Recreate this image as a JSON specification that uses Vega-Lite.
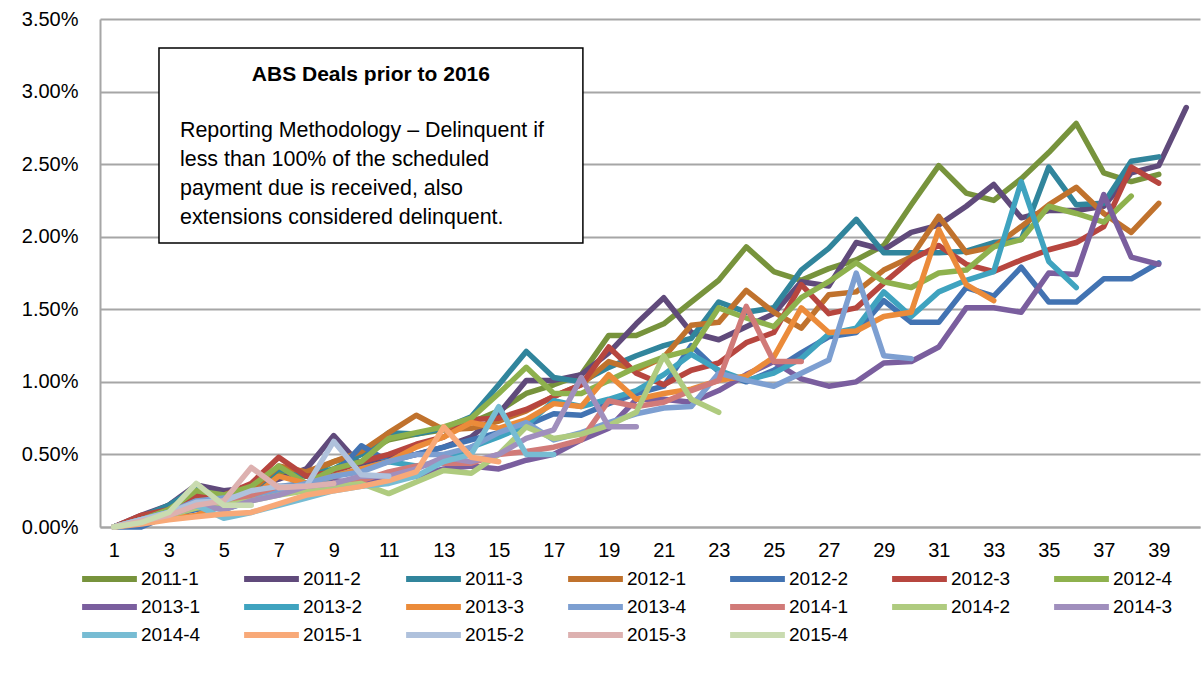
{
  "$schema": "https://vega.github.io/schema/vega-lite/v6.json",
  "width": 1100,
  "height": 508,
  "autosize": {"type": "none"},
  "padding": {"left": 100, "top": 19, "right": 4, "bottom": 152},
  "background": "white",
  "config": {
    "view": {"stroke": null},
    "font": "Liberation Sans",
    "axis": {"labelFont": "Liberation Sans", "labelColor": "#000000"},
    "legend": {"labelFont": "Liberation Sans"}
  },
  "layer": [
    {
      "data": {"values": [
{"s":"2011-1","n":1,"v":0.00},{"s":"2011-1","n":2,"v":0.05},{"s":"2011-1","n":3,"v":0.15},{"s":"2011-1","n":4,"v":0.27},{"s":"2011-1","n":5,"v":0.24},{"s":"2011-1","n":6,"v":0.28},{"s":"2011-1","n":7,"v":0.38},{"s":"2011-1","n":8,"v":0.35},{"s":"2011-1","n":9,"v":0.45},{"s":"2011-1","n":10,"v":0.50},{"s":"2011-1","n":11,"v":0.60},{"s":"2011-1","n":12,"v":0.64},{"s":"2011-1","n":13,"v":0.67},{"s":"2011-1","n":14,"v":0.72},{"s":"2011-1","n":15,"v":0.80},{"s":"2011-1","n":16,"v":0.92},{"s":"2011-1","n":17,"v":0.98},{"s":"2011-1","n":18,"v":1.05},{"s":"2011-1","n":19,"v":1.32},{"s":"2011-1","n":20,"v":1.32},{"s":"2011-1","n":21,"v":1.40},{"s":"2011-1","n":22,"v":1.55},{"s":"2011-1","n":23,"v":1.70},{"s":"2011-1","n":24,"v":1.93},{"s":"2011-1","n":25,"v":1.76},{"s":"2011-1","n":26,"v":1.70},{"s":"2011-1","n":27,"v":1.78},{"s":"2011-1","n":28,"v":1.84},{"s":"2011-1","n":29,"v":1.94},{"s":"2011-1","n":30,"v":2.22},{"s":"2011-1","n":31,"v":2.49},{"s":"2011-1","n":32,"v":2.30},{"s":"2011-1","n":33,"v":2.25},{"s":"2011-1","n":34,"v":2.40},{"s":"2011-1","n":35,"v":2.58},{"s":"2011-1","n":36,"v":2.78},{"s":"2011-1","n":37,"v":2.44},{"s":"2011-1","n":38,"v":2.38},{"s":"2011-1","n":39,"v":2.43},
{"s":"2011-2","n":1,"v":0.00},{"s":"2011-2","n":2,"v":0.08},{"s":"2011-2","n":3,"v":0.15},{"s":"2011-2","n":4,"v":0.29},{"s":"2011-2","n":5,"v":0.25},{"s":"2011-2","n":6,"v":0.27},{"s":"2011-2","n":7,"v":0.33},{"s":"2011-2","n":8,"v":0.40},{"s":"2011-2","n":9,"v":0.63},{"s":"2011-2","n":10,"v":0.42},{"s":"2011-2","n":11,"v":0.48},{"s":"2011-2","n":12,"v":0.50},{"s":"2011-2","n":13,"v":0.55},{"s":"2011-2","n":14,"v":0.62},{"s":"2011-2","n":15,"v":0.78},{"s":"2011-2","n":16,"v":1.01},{"s":"2011-2","n":17,"v":1.01},{"s":"2011-2","n":18,"v":1.05},{"s":"2011-2","n":19,"v":1.20},{"s":"2011-2","n":20,"v":1.40},{"s":"2011-2","n":21,"v":1.58},{"s":"2011-2","n":22,"v":1.34},{"s":"2011-2","n":23,"v":1.29},{"s":"2011-2","n":24,"v":1.38},{"s":"2011-2","n":25,"v":1.47},{"s":"2011-2","n":26,"v":1.69},{"s":"2011-2","n":27,"v":1.66},{"s":"2011-2","n":28,"v":1.96},{"s":"2011-2","n":29,"v":1.91},{"s":"2011-2","n":30,"v":2.03},{"s":"2011-2","n":31,"v":2.08},{"s":"2011-2","n":32,"v":2.21},{"s":"2011-2","n":33,"v":2.36},{"s":"2011-2","n":34,"v":2.13},{"s":"2011-2","n":35,"v":2.18},{"s":"2011-2","n":36,"v":2.18},{"s":"2011-2","n":37,"v":2.21},{"s":"2011-2","n":38,"v":2.44},{"s":"2011-2","n":39,"v":2.49},{"s":"2011-2","n":40,"v":2.89},
{"s":"2011-3","n":1,"v":0.00},{"s":"2011-3","n":2,"v":0.07},{"s":"2011-3","n":3,"v":0.15},{"s":"2011-3","n":4,"v":0.27},{"s":"2011-3","n":5,"v":0.20},{"s":"2011-3","n":6,"v":0.25},{"s":"2011-3","n":7,"v":0.40},{"s":"2011-3","n":8,"v":0.35},{"s":"2011-3","n":9,"v":0.40},{"s":"2011-3","n":10,"v":0.50},{"s":"2011-3","n":11,"v":0.65},{"s":"2011-3","n":12,"v":0.64},{"s":"2011-3","n":13,"v":0.68},{"s":"2011-3","n":14,"v":0.76},{"s":"2011-3","n":15,"v":0.98},{"s":"2011-3","n":16,"v":1.21},{"s":"2011-3","n":17,"v":1.03},{"s":"2011-3","n":18,"v":1.00},{"s":"2011-3","n":19,"v":1.10},{"s":"2011-3","n":20,"v":1.18},{"s":"2011-3","n":21,"v":1.25},{"s":"2011-3","n":22,"v":1.30},{"s":"2011-3","n":23,"v":1.55},{"s":"2011-3","n":24,"v":1.48},{"s":"2011-3","n":25,"v":1.51},{"s":"2011-3","n":26,"v":1.77},{"s":"2011-3","n":27,"v":1.92},{"s":"2011-3","n":28,"v":2.12},{"s":"2011-3","n":29,"v":1.89},{"s":"2011-3","n":30,"v":1.89},{"s":"2011-3","n":31,"v":1.89},{"s":"2011-3","n":32,"v":1.90},{"s":"2011-3","n":33,"v":1.96},{"s":"2011-3","n":34,"v":1.98},{"s":"2011-3","n":35,"v":2.48},{"s":"2011-3","n":36,"v":2.22},{"s":"2011-3","n":37,"v":2.23},{"s":"2011-3","n":38,"v":2.52},{"s":"2011-3","n":39,"v":2.55},
{"s":"2012-1","n":1,"v":0.00},{"s":"2012-1","n":2,"v":0.05},{"s":"2012-1","n":3,"v":0.12},{"s":"2012-1","n":4,"v":0.20},{"s":"2012-1","n":5,"v":0.22},{"s":"2012-1","n":6,"v":0.25},{"s":"2012-1","n":7,"v":0.42},{"s":"2012-1","n":8,"v":0.38},{"s":"2012-1","n":9,"v":0.45},{"s":"2012-1","n":10,"v":0.52},{"s":"2012-1","n":11,"v":0.65},{"s":"2012-1","n":12,"v":0.77},{"s":"2012-1","n":13,"v":0.67},{"s":"2012-1","n":14,"v":0.68},{"s":"2012-1","n":15,"v":0.73},{"s":"2012-1","n":16,"v":0.80},{"s":"2012-1","n":17,"v":0.90},{"s":"2012-1","n":18,"v":0.98},{"s":"2012-1","n":19,"v":1.14},{"s":"2012-1","n":20,"v":1.08},{"s":"2012-1","n":21,"v":1.17},{"s":"2012-1","n":22,"v":1.39},{"s":"2012-1","n":23,"v":1.41},{"s":"2012-1","n":24,"v":1.63},{"s":"2012-1","n":25,"v":1.48},{"s":"2012-1","n":26,"v":1.37},{"s":"2012-1","n":27,"v":1.60},{"s":"2012-1","n":28,"v":1.62},{"s":"2012-1","n":29,"v":1.77},{"s":"2012-1","n":30,"v":1.86},{"s":"2012-1","n":31,"v":2.14},{"s":"2012-1","n":32,"v":1.89},{"s":"2012-1","n":33,"v":1.93},{"s":"2012-1","n":34,"v":2.07},{"s":"2012-1","n":35,"v":2.22},{"s":"2012-1","n":36,"v":2.34},{"s":"2012-1","n":37,"v":2.16},{"s":"2012-1","n":38,"v":2.03},{"s":"2012-1","n":39,"v":2.23},
{"s":"2012-2","n":1,"v":0.00},{"s":"2012-2","n":2,"v":0.00},{"s":"2012-2","n":3,"v":0.08},{"s":"2012-2","n":4,"v":0.12},{"s":"2012-2","n":5,"v":0.15},{"s":"2012-2","n":6,"v":0.20},{"s":"2012-2","n":7,"v":0.28},{"s":"2012-2","n":8,"v":0.30},{"s":"2012-2","n":9,"v":0.35},{"s":"2012-2","n":10,"v":0.56},{"s":"2012-2","n":11,"v":0.45},{"s":"2012-2","n":12,"v":0.50},{"s":"2012-2","n":13,"v":0.55},{"s":"2012-2","n":14,"v":0.60},{"s":"2012-2","n":15,"v":0.65},{"s":"2012-2","n":16,"v":0.70},{"s":"2012-2","n":17,"v":0.78},{"s":"2012-2","n":18,"v":0.77},{"s":"2012-2","n":19,"v":0.85},{"s":"2012-2","n":20,"v":0.92},{"s":"2012-2","n":21,"v":0.97},{"s":"2012-2","n":22,"v":1.25},{"s":"2012-2","n":23,"v":1.07},{"s":"2012-2","n":24,"v":1.00},{"s":"2012-2","n":25,"v":1.08},{"s":"2012-2","n":26,"v":1.20},{"s":"2012-2","n":27,"v":1.31},{"s":"2012-2","n":28,"v":1.34},{"s":"2012-2","n":29,"v":1.56},{"s":"2012-2","n":30,"v":1.41},{"s":"2012-2","n":31,"v":1.41},{"s":"2012-2","n":32,"v":1.65},{"s":"2012-2","n":33,"v":1.59},{"s":"2012-2","n":34,"v":1.79},{"s":"2012-2","n":35,"v":1.55},{"s":"2012-2","n":36,"v":1.55},{"s":"2012-2","n":37,"v":1.71},{"s":"2012-2","n":38,"v":1.71},{"s":"2012-2","n":39,"v":1.82},
{"s":"2012-3","n":1,"v":0.00},{"s":"2012-3","n":2,"v":0.08},{"s":"2012-3","n":3,"v":0.12},{"s":"2012-3","n":4,"v":0.22},{"s":"2012-3","n":5,"v":0.22},{"s":"2012-3","n":6,"v":0.30},{"s":"2012-3","n":7,"v":0.48},{"s":"2012-3","n":8,"v":0.35},{"s":"2012-3","n":9,"v":0.38},{"s":"2012-3","n":10,"v":0.45},{"s":"2012-3","n":11,"v":0.50},{"s":"2012-3","n":12,"v":0.57},{"s":"2012-3","n":13,"v":0.62},{"s":"2012-3","n":14,"v":0.74},{"s":"2012-3","n":15,"v":0.75},{"s":"2012-3","n":16,"v":0.81},{"s":"2012-3","n":17,"v":0.90},{"s":"2012-3","n":18,"v":0.98},{"s":"2012-3","n":19,"v":1.24},{"s":"2012-3","n":20,"v":1.06},{"s":"2012-3","n":21,"v":0.98},{"s":"2012-3","n":22,"v":1.08},{"s":"2012-3","n":23,"v":1.13},{"s":"2012-3","n":24,"v":1.27},{"s":"2012-3","n":25,"v":1.34},{"s":"2012-3","n":26,"v":1.67},{"s":"2012-3","n":27,"v":1.47},{"s":"2012-3","n":28,"v":1.51},{"s":"2012-3","n":29,"v":1.68},{"s":"2012-3","n":30,"v":1.84},{"s":"2012-3","n":31,"v":1.94},{"s":"2012-3","n":32,"v":1.81},{"s":"2012-3","n":33,"v":1.76},{"s":"2012-3","n":34,"v":1.84},{"s":"2012-3","n":35,"v":1.91},{"s":"2012-3","n":36,"v":1.96},{"s":"2012-3","n":37,"v":2.07},{"s":"2012-3","n":38,"v":2.48},{"s":"2012-3","n":39,"v":2.37},
{"s":"2012-4","n":1,"v":0.00},{"s":"2012-4","n":2,"v":0.05},{"s":"2012-4","n":3,"v":0.12},{"s":"2012-4","n":4,"v":0.25},{"s":"2012-4","n":5,"v":0.22},{"s":"2012-4","n":6,"v":0.28},{"s":"2012-4","n":7,"v":0.42},{"s":"2012-4","n":8,"v":0.30},{"s":"2012-4","n":9,"v":0.40},{"s":"2012-4","n":10,"v":0.45},{"s":"2012-4","n":11,"v":0.61},{"s":"2012-4","n":12,"v":0.65},{"s":"2012-4","n":13,"v":0.69},{"s":"2012-4","n":14,"v":0.75},{"s":"2012-4","n":15,"v":0.92},{"s":"2012-4","n":16,"v":1.10},{"s":"2012-4","n":17,"v":0.92},{"s":"2012-4","n":18,"v":0.92},{"s":"2012-4","n":19,"v":1.01},{"s":"2012-4","n":20,"v":1.10},{"s":"2012-4","n":21,"v":1.17},{"s":"2012-4","n":22,"v":1.22},{"s":"2012-4","n":23,"v":1.51},{"s":"2012-4","n":24,"v":1.44},{"s":"2012-4","n":25,"v":1.38},{"s":"2012-4","n":26,"v":1.58},{"s":"2012-4","n":27,"v":1.69},{"s":"2012-4","n":28,"v":1.82},{"s":"2012-4","n":29,"v":1.69},{"s":"2012-4","n":30,"v":1.65},{"s":"2012-4","n":31,"v":1.75},{"s":"2012-4","n":32,"v":1.77},{"s":"2012-4","n":33,"v":1.93},{"s":"2012-4","n":34,"v":1.98},{"s":"2012-4","n":35,"v":2.21},{"s":"2012-4","n":36,"v":2.16},{"s":"2012-4","n":37,"v":2.10},{"s":"2012-4","n":38,"v":2.28},
{"s":"2013-1","n":1,"v":0.00},{"s":"2013-1","n":2,"v":0.05},{"s":"2013-1","n":3,"v":0.10},{"s":"2013-1","n":4,"v":0.15},{"s":"2013-1","n":5,"v":0.15},{"s":"2013-1","n":6,"v":0.20},{"s":"2013-1","n":7,"v":0.25},{"s":"2013-1","n":8,"v":0.28},{"s":"2013-1","n":9,"v":0.32},{"s":"2013-1","n":10,"v":0.30},{"s":"2013-1","n":11,"v":0.33},{"s":"2013-1","n":12,"v":0.35},{"s":"2013-1","n":13,"v":0.40},{"s":"2013-1","n":14,"v":0.42},{"s":"2013-1","n":15,"v":0.40},{"s":"2013-1","n":16,"v":0.46},{"s":"2013-1","n":17,"v":0.50},{"s":"2013-1","n":18,"v":0.60},{"s":"2013-1","n":19,"v":0.68},{"s":"2013-1","n":20,"v":0.88},{"s":"2013-1","n":21,"v":0.88},{"s":"2013-1","n":22,"v":0.86},{"s":"2013-1","n":23,"v":0.94},{"s":"2013-1","n":24,"v":1.05},{"s":"2013-1","n":25,"v":1.14},{"s":"2013-1","n":26,"v":1.02},{"s":"2013-1","n":27,"v":0.97},{"s":"2013-1","n":28,"v":1.00},{"s":"2013-1","n":29,"v":1.13},{"s":"2013-1","n":30,"v":1.14},{"s":"2013-1","n":31,"v":1.24},{"s":"2013-1","n":32,"v":1.51},{"s":"2013-1","n":33,"v":1.51},{"s":"2013-1","n":34,"v":1.48},{"s":"2013-1","n":35,"v":1.75},{"s":"2013-1","n":36,"v":1.74},{"s":"2013-1","n":37,"v":2.29},{"s":"2013-1","n":38,"v":1.86},{"s":"2013-1","n":39,"v":1.81},
{"s":"2013-2","n":1,"v":0.00},{"s":"2013-2","n":2,"v":0.05},{"s":"2013-2","n":3,"v":0.10},{"s":"2013-2","n":4,"v":0.15},{"s":"2013-2","n":5,"v":0.12},{"s":"2013-2","n":6,"v":0.18},{"s":"2013-2","n":7,"v":0.25},{"s":"2013-2","n":8,"v":0.28},{"s":"2013-2","n":9,"v":0.35},{"s":"2013-2","n":10,"v":0.40},{"s":"2013-2","n":11,"v":0.45},{"s":"2013-2","n":12,"v":0.42},{"s":"2013-2","n":13,"v":0.45},{"s":"2013-2","n":14,"v":0.55},{"s":"2013-2","n":15,"v":0.62},{"s":"2013-2","n":16,"v":0.70},{"s":"2013-2","n":17,"v":0.87},{"s":"2013-2","n":18,"v":0.83},{"s":"2013-2","n":19,"v":0.88},{"s":"2013-2","n":20,"v":0.94},{"s":"2013-2","n":21,"v":1.05},{"s":"2013-2","n":22,"v":1.19},{"s":"2013-2","n":23,"v":1.08},{"s":"2013-2","n":24,"v":1.01},{"s":"2013-2","n":25,"v":1.06},{"s":"2013-2","n":26,"v":1.16},{"s":"2013-2","n":27,"v":1.33},{"s":"2013-2","n":28,"v":1.37},{"s":"2013-2","n":29,"v":1.62},{"s":"2013-2","n":30,"v":1.45},{"s":"2013-2","n":31,"v":1.62},{"s":"2013-2","n":32,"v":1.70},{"s":"2013-2","n":33,"v":1.76},{"s":"2013-2","n":34,"v":2.38},{"s":"2013-2","n":35,"v":1.83},{"s":"2013-2","n":36,"v":1.65},
{"s":"2013-3","n":1,"v":0.00},{"s":"2013-3","n":2,"v":0.03},{"s":"2013-3","n":3,"v":0.06},{"s":"2013-3","n":4,"v":0.08},{"s":"2013-3","n":5,"v":0.15},{"s":"2013-3","n":6,"v":0.20},{"s":"2013-3","n":7,"v":0.35},{"s":"2013-3","n":8,"v":0.30},{"s":"2013-3","n":9,"v":0.35},{"s":"2013-3","n":10,"v":0.40},{"s":"2013-3","n":11,"v":0.45},{"s":"2013-3","n":12,"v":0.55},{"s":"2013-3","n":13,"v":0.62},{"s":"2013-3","n":14,"v":0.72},{"s":"2013-3","n":15,"v":0.68},{"s":"2013-3","n":16,"v":0.74},{"s":"2013-3","n":17,"v":0.85},{"s":"2013-3","n":18,"v":0.83},{"s":"2013-3","n":19,"v":1.05},{"s":"2013-3","n":20,"v":0.88},{"s":"2013-3","n":21,"v":0.92},{"s":"2013-3","n":22,"v":0.95},{"s":"2013-3","n":23,"v":1.01},{"s":"2013-3","n":24,"v":1.04},{"s":"2013-3","n":25,"v":1.17},{"s":"2013-3","n":26,"v":1.51},{"s":"2013-3","n":27,"v":1.34},{"s":"2013-3","n":28,"v":1.35},{"s":"2013-3","n":29,"v":1.45},{"s":"2013-3","n":30,"v":1.48},{"s":"2013-3","n":31,"v":2.05},{"s":"2013-3","n":32,"v":1.67},{"s":"2013-3","n":33,"v":1.56},
{"s":"2013-4","n":1,"v":0.00},{"s":"2013-4","n":2,"v":0.04},{"s":"2013-4","n":3,"v":0.10},{"s":"2013-4","n":4,"v":0.18},{"s":"2013-4","n":5,"v":0.20},{"s":"2013-4","n":6,"v":0.22},{"s":"2013-4","n":7,"v":0.25},{"s":"2013-4","n":8,"v":0.30},{"s":"2013-4","n":9,"v":0.35},{"s":"2013-4","n":10,"v":0.38},{"s":"2013-4","n":11,"v":0.45},{"s":"2013-4","n":12,"v":0.50},{"s":"2013-4","n":13,"v":0.50},{"s":"2013-4","n":14,"v":0.55},{"s":"2013-4","n":15,"v":0.65},{"s":"2013-4","n":16,"v":0.72},{"s":"2013-4","n":17,"v":0.60},{"s":"2013-4","n":18,"v":0.65},{"s":"2013-4","n":19,"v":0.72},{"s":"2013-4","n":20,"v":0.78},{"s":"2013-4","n":21,"v":0.82},{"s":"2013-4","n":22,"v":0.83},{"s":"2013-4","n":23,"v":1.06},{"s":"2013-4","n":24,"v":1.01},{"s":"2013-4","n":25,"v":0.97},{"s":"2013-4","n":26,"v":1.06},{"s":"2013-4","n":27,"v":1.15},{"s":"2013-4","n":28,"v":1.75},{"s":"2013-4","n":29,"v":1.18},{"s":"2013-4","n":30,"v":1.16},
{"s":"2014-1","n":1,"v":0.00},{"s":"2014-1","n":2,"v":0.05},{"s":"2014-1","n":3,"v":0.08},{"s":"2014-1","n":4,"v":0.15},{"s":"2014-1","n":5,"v":0.18},{"s":"2014-1","n":6,"v":0.22},{"s":"2014-1","n":7,"v":0.28},{"s":"2014-1","n":8,"v":0.25},{"s":"2014-1","n":9,"v":0.30},{"s":"2014-1","n":10,"v":0.32},{"s":"2014-1","n":11,"v":0.38},{"s":"2014-1","n":12,"v":0.42},{"s":"2014-1","n":13,"v":0.44},{"s":"2014-1","n":14,"v":0.44},{"s":"2014-1","n":15,"v":0.50},{"s":"2014-1","n":16,"v":0.52},{"s":"2014-1","n":17,"v":0.55},{"s":"2014-1","n":18,"v":0.60},{"s":"2014-1","n":19,"v":0.87},{"s":"2014-1","n":20,"v":0.83},{"s":"2014-1","n":21,"v":0.86},{"s":"2014-1","n":22,"v":0.94},{"s":"2014-1","n":23,"v":1.01},{"s":"2014-1","n":24,"v":1.52},{"s":"2014-1","n":25,"v":1.14},{"s":"2014-1","n":26,"v":1.14},
{"s":"2014-2","n":1,"v":0.00},{"s":"2014-2","n":2,"v":0.04},{"s":"2014-2","n":3,"v":0.08},{"s":"2014-2","n":4,"v":0.13},{"s":"2014-2","n":5,"v":0.15},{"s":"2014-2","n":6,"v":0.18},{"s":"2014-2","n":7,"v":0.22},{"s":"2014-2","n":8,"v":0.25},{"s":"2014-2","n":9,"v":0.28},{"s":"2014-2","n":10,"v":0.30},{"s":"2014-2","n":11,"v":0.23},{"s":"2014-2","n":12,"v":0.31},{"s":"2014-2","n":13,"v":0.39},{"s":"2014-2","n":14,"v":0.37},{"s":"2014-2","n":15,"v":0.50},{"s":"2014-2","n":16,"v":0.69},{"s":"2014-2","n":17,"v":0.61},{"s":"2014-2","n":18,"v":0.64},{"s":"2014-2","n":19,"v":0.70},{"s":"2014-2","n":20,"v":0.79},{"s":"2014-2","n":21,"v":1.18},{"s":"2014-2","n":22,"v":0.88},{"s":"2014-2","n":23,"v":0.79},
{"s":"2014-3","n":1,"v":0.00},{"s":"2014-3","n":2,"v":0.04},{"s":"2014-3","n":3,"v":0.08},{"s":"2014-3","n":4,"v":0.15},{"s":"2014-3","n":5,"v":0.12},{"s":"2014-3","n":6,"v":0.18},{"s":"2014-3","n":7,"v":0.22},{"s":"2014-3","n":8,"v":0.28},{"s":"2014-3","n":9,"v":0.30},{"s":"2014-3","n":10,"v":0.35},{"s":"2014-3","n":11,"v":0.35},{"s":"2014-3","n":12,"v":0.40},{"s":"2014-3","n":13,"v":0.48},{"s":"2014-3","n":14,"v":0.45},{"s":"2014-3","n":15,"v":0.50},{"s":"2014-3","n":16,"v":0.61},{"s":"2014-3","n":17,"v":0.67},{"s":"2014-3","n":18,"v":1.03},{"s":"2014-3","n":19,"v":0.69},{"s":"2014-3","n":20,"v":0.69},
{"s":"2014-4","n":1,"v":0.00},{"s":"2014-4","n":2,"v":0.05},{"s":"2014-4","n":3,"v":0.10},{"s":"2014-4","n":4,"v":0.15},{"s":"2014-4","n":5,"v":0.06},{"s":"2014-4","n":6,"v":0.10},{"s":"2014-4","n":7,"v":0.15},{"s":"2014-4","n":8,"v":0.20},{"s":"2014-4","n":9,"v":0.25},{"s":"2014-4","n":10,"v":0.28},{"s":"2014-4","n":11,"v":0.30},{"s":"2014-4","n":12,"v":0.35},{"s":"2014-4","n":13,"v":0.45},{"s":"2014-4","n":14,"v":0.50},{"s":"2014-4","n":15,"v":0.83},{"s":"2014-4","n":16,"v":0.50},{"s":"2014-4","n":17,"v":0.50},
{"s":"2015-1","n":1,"v":0.00},{"s":"2015-1","n":2,"v":0.02},{"s":"2015-1","n":3,"v":0.05},{"s":"2015-1","n":4,"v":0.07},{"s":"2015-1","n":5,"v":0.09},{"s":"2015-1","n":6,"v":0.10},{"s":"2015-1","n":7,"v":0.16},{"s":"2015-1","n":8,"v":0.22},{"s":"2015-1","n":9,"v":0.25},{"s":"2015-1","n":10,"v":0.28},{"s":"2015-1","n":11,"v":0.32},{"s":"2015-1","n":12,"v":0.38},{"s":"2015-1","n":13,"v":0.69},{"s":"2015-1","n":14,"v":0.48},{"s":"2015-1","n":15,"v":0.45},
{"s":"2015-2","n":1,"v":0.00},{"s":"2015-2","n":2,"v":0.05},{"s":"2015-2","n":3,"v":0.10},{"s":"2015-2","n":4,"v":0.17},{"s":"2015-2","n":5,"v":0.18},{"s":"2015-2","n":6,"v":0.25},{"s":"2015-2","n":7,"v":0.28},{"s":"2015-2","n":8,"v":0.28},{"s":"2015-2","n":9,"v":0.59},{"s":"2015-2","n":10,"v":0.36},{"s":"2015-2","n":11,"v":0.35},
{"s":"2015-3","n":1,"v":0.00},{"s":"2015-3","n":2,"v":0.04},{"s":"2015-3","n":3,"v":0.08},{"s":"2015-3","n":4,"v":0.15},{"s":"2015-3","n":5,"v":0.18},{"s":"2015-3","n":6,"v":0.41},{"s":"2015-3","n":7,"v":0.27},{"s":"2015-3","n":8,"v":0.28},{"s":"2015-3","n":9,"v":0.30},
{"s":"2015-4","n":1,"v":0.00},{"s":"2015-4","n":2,"v":0.03},{"s":"2015-4","n":3,"v":0.10},{"s":"2015-4","n":4,"v":0.30},{"s":"2015-4","n":5,"v":0.15},{"s":"2015-4","n":6,"v":0.15}
      ]},
      "mark": {"type": "line", "strokeWidth": 5.5, "strokeJoin": "round", "strokeCap": "round"},
      "encoding": {
        "x": {
          "field": "n", "type": "quantitative",
          "scale": {"domain": [0.5, 40.5], "nice": false, "zero": false},
          "axis": {
            "title": null, "values": [1,3,5,7,9,11,13,15,17,19,21,23,25,27,29,31,33,35,37,39],
            "grid": false, "ticks": false, "domain": true, "domainColor": "#A6A6A6", "domainWidth": 2,
            "labelFontSize": 20, "labelPadding": 13, "labelFlush": false
          }
        },
        "y": {
          "field": "v", "type": "quantitative",
          "scale": {"domain": [0, 3.5], "nice": false},
          "axis": {
            "title": null, "values": [0,0.5,1,1.5,2,2.5,3,3.5],
            "labelExpr": "format(datum.value, '.2f') + '%'",
            "grid": true, "gridColor": "#A6A6A6", "gridWidth": 2,
            "ticks": false, "domain": true, "domainColor": "#A6A6A6", "domainWidth": 2,
            "labelFontSize": 20, "labelPadding": 22
          }
        },
        "color": {
          "field": "s", "type": "nominal",
          "scale": {
            "domain": ["2011-1","2011-2","2011-3","2012-1","2012-2","2012-3","2012-4","2013-1","2013-2","2013-3","2013-4","2014-1","2014-2","2014-3","2014-4","2015-1","2015-2","2015-3","2015-4"],
            "range": ["#77933C","#604A7B","#31859C","#C0722D","#4273B2","#B7463F","#8EB14D","#7A5E9E","#3FA3BF","#EB8B3A","#7D9FD1","#D17A78","#AFCB7F","#A08FBD","#77BCD3","#F8A978","#AFC1DC","#DDB1B0","#C9DBB0"]
          },
          "legend": {
            "title": null, "orient": "none", "legendX": -21, "legendY": 549, "direction": "horizontal",
            "columns": 7, "symbolType": "stroke", "symbolStrokeWidth": 6, "symbolSize": 3000,
            "labelFontSize": 19, "labelOffset": 1, "columnPadding": 40, "rowPadding": 6,
            "clipHeight": 22, "padding": 0, "labelColor": "#000000"
          }
        }
      }
    },
    {
      "data": {"values": [{"x": 2.645, "x2": 18.06, "y": 3.301, "y2": 1.957}]},
      "mark": {"type": "rect", "fill": "white", "stroke": "black", "strokeWidth": 1.5},
      "encoding": {
        "x": {"field": "x", "type": "quantitative"},
        "x2": {"field": "x2"},
        "y": {"field": "y", "type": "quantitative"},
        "y2": {"field": "y2"}
      }
    },
    {
      "data": {"values": [{"x": 10.35, "y": 3.115, "t": "ABS Deals prior to 2016"}]},
      "mark": {"type": "text", "fontSize": 21, "fontWeight": "bold", "align": "center", "baseline": "middle", "color": "#000000"},
      "encoding": {
        "x": {"field": "x", "type": "quantitative"},
        "y": {"field": "y", "type": "quantitative"},
        "text": {"field": "t"}
      }
    },
    {
      "data": {"values": [
        {"x": 3.41, "y": 2.729, "t": "Reporting Methodology – Delinquent if"},
        {"x": 3.41, "y": 2.529, "t": "less than 100% of the scheduled"},
        {"x": 3.41, "y": 2.329, "t": "payment due is received, also"},
        {"x": 3.41, "y": 2.130, "t": "extensions considered delinquent."}
      ]},
      "mark": {"type": "text", "fontSize": 21.4, "align": "left", "baseline": "middle", "color": "#000000"},
      "encoding": {
        "x": {"field": "x", "type": "quantitative"},
        "y": {"field": "y", "type": "quantitative"},
        "text": {"field": "t"}
      }
    }
  ]
}
